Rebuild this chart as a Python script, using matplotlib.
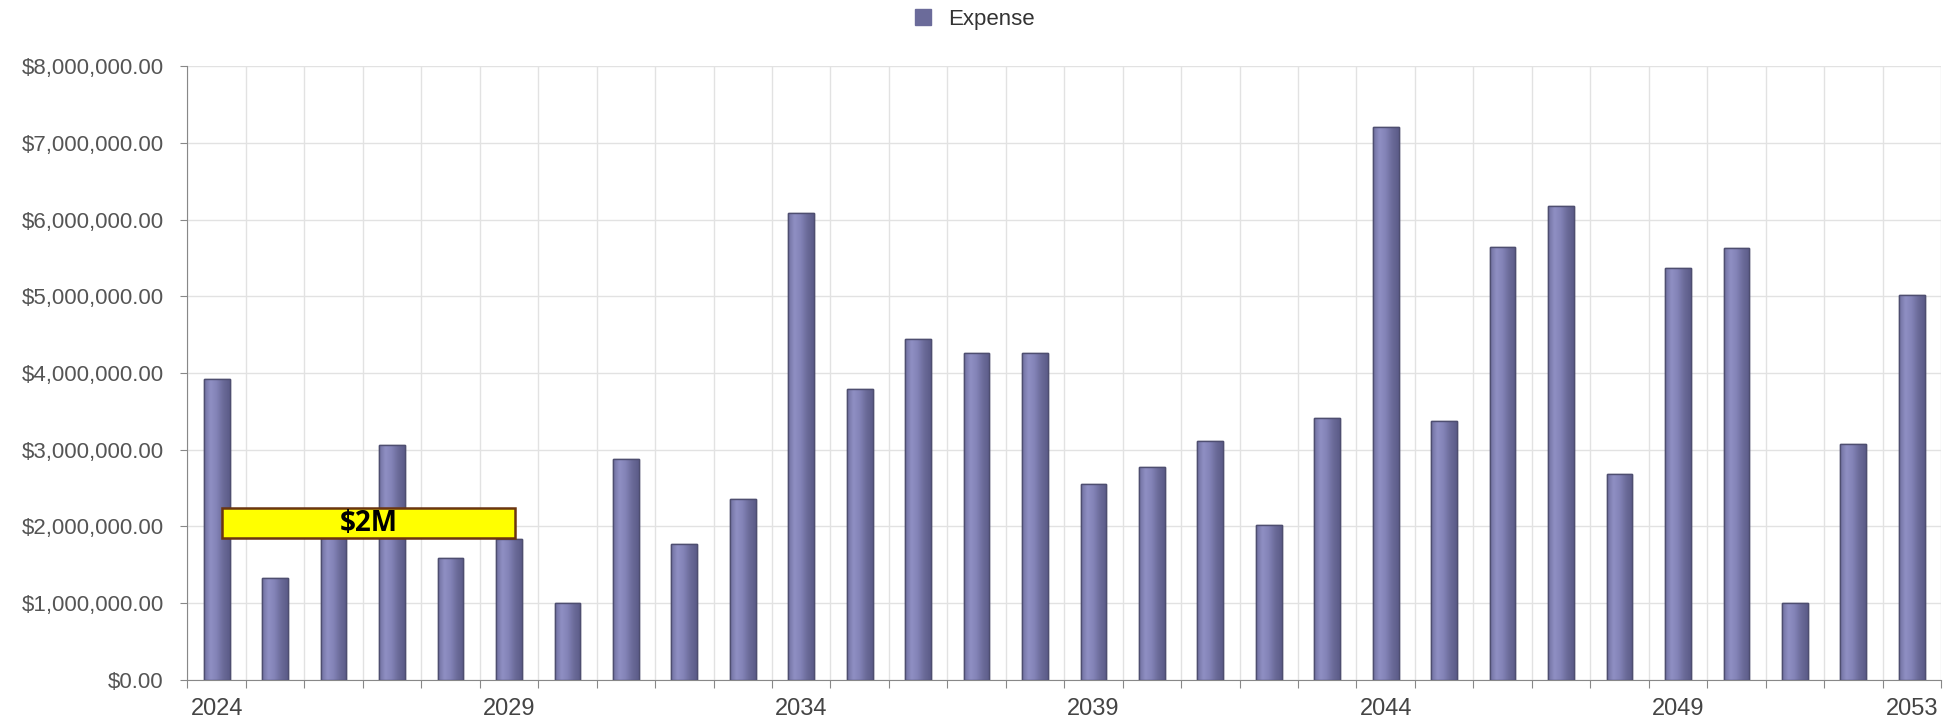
import matplotlib
matplotlib.use("Agg")
import matplotlib.pyplot as plt
import numpy as np
from matplotlib.ticker import FuncFormatter, MultipleLocator
from matplotlib.patches import Rectangle
from matplotlib.lines import Line2D
from matplotlib.colors import LinearSegmentedColormap

years = list(range(2024, 2054))
expense = [3.92e6, 1.33e6, 2.00e6, 3.06e6, 1.59e6, 1.84e6, 1.00e6, 2.88e6, 1.77e6, 2.36e6,
           6.08e6, 3.79e6, 4.44e6, 4.26e6, 4.26e6, 2.55e6, 2.78e6, 3.11e6, 2.02e6, 3.41e6,
           7.20e6, 3.38e6, 5.64e6, 6.18e6, 2.68e6, 5.37e6, 5.63e6, 1.00e6, 3.07e6, 5.02e6]
label_years = [2024, 2029, 2034, 2039, 2044, 2049, 2053]
series_name = "Expense"
note_text = "$2M"
note_range = (1.85e6, 2.24e6)

plt.rcParams['font.family'] = ['Liberation Sans', 'DejaVu Sans']

fig = plt.figure(figsize=(19.57, 7.24), dpi=100)
ax = fig.add_axes([0.0958, 0.0608, 0.8960, 0.8480])

n = len(years)
x = np.arange(n)
width = 0.44
bars = ax.bar(x, expense, width=width, color='#7676a8', edgecolor='#4e4e70',
              linewidth=1.0, zorder=3)

cmap = LinearSegmentedColormap.from_list('g', ['#7070a0', '#9090c4', '#8282b6', '#6a6a98', '#5c5c88'])
grad = np.linspace(0, 1, 64).reshape(1, -1)
for b in bars:
    bx, by = b.get_x(), b.get_y()
    bw, bh = b.get_width(), b.get_height()
    im = ax.imshow(grad, extent=[bx, bx + bw, by, by + bh], cmap=cmap,
                   aspect='auto', zorder=3.5, interpolation='bicubic')
    im.set_clip_path(b)
    ax.add_patch(Rectangle((bx, by), bw, bh, fill=False, edgecolor='#4e4e70',
                           linewidth=1.0, zorder=4))

ax.set_xlim(-0.5, n - 0.5)
ax.set_ylim(0, 8e6)
ax.yaxis.set_major_locator(MultipleLocator(1e6))
ax.yaxis.set_major_formatter(FuncFormatter(lambda v, p: f"${v:,.2f}"))

ax.set_xticks(np.arange(n + 1) - 0.5, minor=False)
ax.set_xticklabels([])
ax.set_xticks([years.index(y) for y in label_years], minor=True)
ax.set_xticklabels([str(y) for y in label_years], minor=True)
ax.tick_params(axis='x', which='minor', length=0, pad=13, labelsize=17, labelcolor='#444444')
ax.tick_params(axis='x', which='major', length=6, color='#888888', direction='out')
ax.tick_params(axis='y', length=5, color='#888888', labelsize=16, labelcolor='#555555', pad=12)

ax.grid(True, which='major', color='#e2e2e2', linewidth=1.0, zorder=0)
ax.set_axisbelow(True)
for s in ['top', 'right']:
    ax.spines[s].set_visible(False)
ax.spines['left'].set_color('#888888')
ax.spines['bottom'].set_color('#888888')

# yellow annotation box
bx0, bx1 = 0.09, 5.10
ax.add_patch(Rectangle((bx0, note_range[0]), bx1 - bx0, note_range[1] - note_range[0],
                       facecolor='#ffff00', edgecolor='#6b3510', linewidth=1.8, zorder=6))
ax.text((bx0 + bx1) / 2, sum(note_range) / 2, note_text, ha='center', va='center',
        fontsize=20, fontweight='bold', color='black', zorder=7,
        family=['Open Sans', 'DejaVu Sans'])

handle = Line2D([], [], marker='s', linestyle='none', markersize=11,
                markerfacecolor='#6b6b9a', markeredgecolor='#6b6b9a')
fig.legend([handle], [series_name], loc='center', bbox_to_anchor=(0.4945, 0.973),
           frameon=False, fontsize=16, handletextpad=0.1, labelcolor='#333333')

fig.savefig('out.png', dpi=100, facecolor='white')
